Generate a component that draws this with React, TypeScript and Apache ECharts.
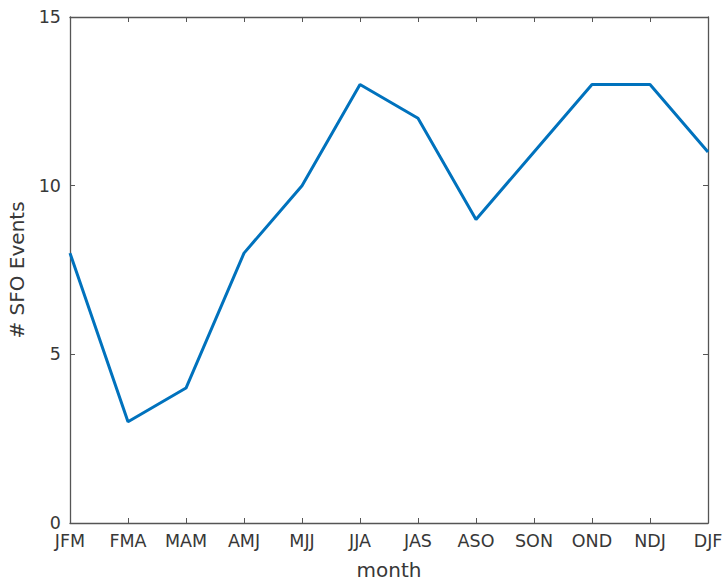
import React, { useEffect, useRef } from "react";
import * as echarts from "echarts";

const months = ["JFM", "FMA", "MAM", "AMJ", "MJJ", "JJA", "JAS", "ASO", "SON", "OND", "NDJ", "DJF"];
const sfoEvents = [8, 3, 4, 8, 10, 13, 12, 9, 11, 13, 13, 11];
const yTicks = { min: 0, max: 15, interval: 5 };

const FONT = "DejaVu Sans";
const AXIS_COLOR = "#555555";
const LABEL_COLOR = "#383838";

export default function App() {
  const ref = useRef<HTMLDivElement>(null);

  useEffect(() => {
    if (!ref.current) return;
    const chart = echarts.init(ref.current, undefined, { renderer: "svg" });
    const tick = { show: true, inside: true, length: 5, lineStyle: { color: AXIS_COLOR, width: 1 } };
    const line = { show: true, onZero: false, lineStyle: { color: AXIS_COLOR, width: 1.3 } };
    chart.setOption({
      animation: false,
      backgroundColor: "#ffffff",
      grid: {
        left: 70,
        top: 17,
        width: 638,
        height: 506,
        containLabel: false,
        outerBoundsMode: "none",
      },
      xAxis: [
        {
          type: "category",
          data: months,
          boundaryGap: false,
          position: "bottom",
          name: "month",
          nameLocation: "middle",
          nameGap: 37,
          nameTextStyle: { fontFamily: FONT, fontSize: 20, color: LABEL_COLOR },
          axisLine: line,
          axisTick: { ...tick, alignWithLabel: true },
          axisLabel: { fontFamily: FONT, fontSize: 17.5, color: LABEL_COLOR, margin: 9, interval: 0 },
          splitLine: { show: false },
        },
        {
          type: "category",
          data: months,
          boundaryGap: false,
          position: "top",
          axisLine: line,
          axisTick: tick,
          axisLabel: { show: false },
          splitLine: { show: false },
        },
      ],
      yAxis: [
        {
          type: "value",
          ...yTicks,
          position: "left",
          name: "# SFO Events",
          nameLocation: "middle",
          nameGap: 43,
          nameTextStyle: { fontFamily: FONT, fontSize: 20, color: LABEL_COLOR },
          axisLine: line,
          axisTick: tick,
          axisLabel: { fontFamily: FONT, fontSize: 17.5, color: LABEL_COLOR, margin: 9 },
          splitLine: { show: false },
        },
        {
          type: "value",
          ...yTicks,
          position: "right",
          axisLine: line,
          axisTick: tick,
          axisLabel: { show: false },
          splitLine: { show: false },
        },
      ],
      series: [
        {
          type: "line",
          data: sfoEvents,
          xAxisIndex: 0,
          yAxisIndex: 0,
          showSymbol: false,
          lineStyle: { color: "#0072BD", width: 3 },
          itemStyle: { color: "#0072BD" },
        },
      ],
    });
    return () => chart.dispose();
  }, []);

  return <div ref={ref} style={{ position: "fixed", left: 0, top: 0, width: 724, height: 583 }} />;
}
